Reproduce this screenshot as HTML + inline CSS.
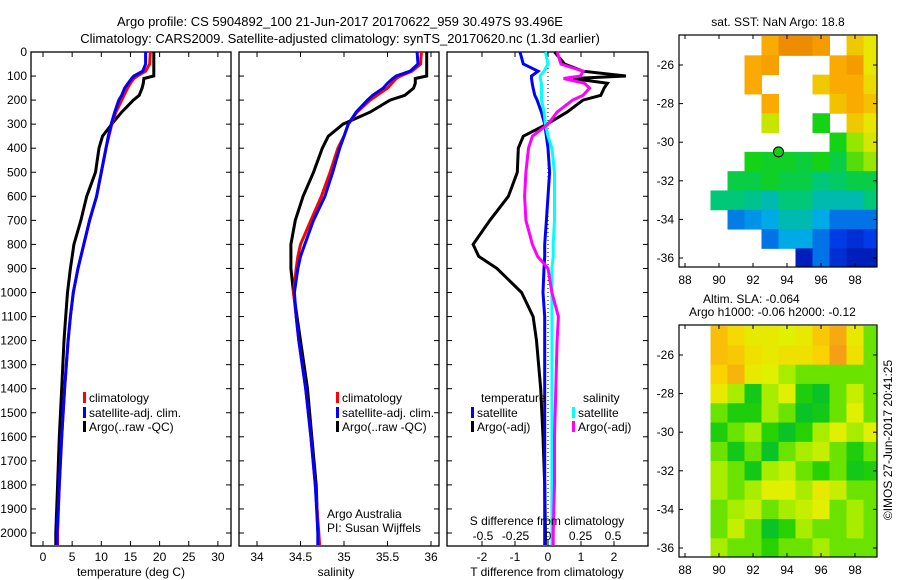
<!DOCTYPE html>
<html><head><meta charset="utf-8">
<style>
html,body{margin:0;padding:0;background:#fff;}
svg{display:block;font-family:"Liberation Sans",sans-serif;}
text{font-size:12px;fill:#000;}
</style></head>
<body>
<svg id="fig" width="900" height="580" viewBox="0 0 900 580" xmlns="http://www.w3.org/2000/svg">
<text x="340" y="26" text-anchor="middle" style="font-size:13px">Argo profile: CS 5904892_100 21-Jun-2017 20170622_959 30.497S 93.496E</text>
<text x="340" y="43" text-anchor="middle" style="font-size:13px">Climatology: CARS2009. Satellite-adjusted climatology: synTS_20170620.nc (1.3d earlier)</text>
<g id="layer"></g>
</svg>
<script>
// ---------- data ----------
const depths = [0,50,80,100,110,130,150,180,200,250,300,350,400,500,600,700,800,850,900,1000,1100,1200,1400,1600,1800,2000,2050];
const tempArgo = [19,19,19,19,17.3,17.2,17,16.5,15.5,13.5,11.8,10.2,9.6,9,7.5,6.5,5.3,5,4.7,4.2,3.9,3.6,3.2,2.8,2.5,2.2,2.2];
const tempClim = [18.4,18.3,17.6,16.2,15.6,15,14.5,13.9,13.5,12.5,11.8,11.3,10.8,10,9.2,8,7,6.5,6,5.2,4.7,4.3,3.7,3.2,2.8,2.5,2.5];
const tempSat  = [17.6,17.6,17.1,15.6,15.2,14.6,14,13.5,13,12.3,11.7,11.2,10.8,10,9.2,8,7,6.5,6,5.2,4.7,4.3,3.7,3.2,2.8,2.4,2.4];
const salArgo = [35.95,35.95,35.95,35.95,35.82,35.82,35.8,35.7,35.53,35.3,34.99,34.82,34.75,34.65,34.53,34.44,34.39,34.39,34.39,34.42,34.46,34.5,34.58,34.63,34.68,34.7,34.7];
const salClim = [35.89,35.88,35.78,35.65,35.6,35.55,35.5,35.38,35.3,35.15,35.05,35,34.93,34.84,34.74,34.62,34.5,34.47,34.45,34.42,34.45,34.48,34.56,34.62,34.67,34.71,34.72];
const salSat  = [35.84,35.85,35.76,35.6,35.56,35.5,35.45,35.33,35.27,35.14,35.05,35,34.95,34.87,34.78,34.65,34.55,34.5,34.47,34.43,34.45,34.48,34.56,34.62,34.67,34.7,34.7];
const dTArgo = [0.2,0.5,1.06,2.36,0.76,1.8,1.7,1.6,1.06,0.58,-0.03,-0.75,-0.9,-0.93,-1.2,-1.76,-2.27,-2.1,-1.55,-0.8,-0.45,-0.35,-0.22,-0.15,-0.1,-0.08,-0.08];
const dTSat  = [-0.85,-0.75,-0.3,-0.5,-0.5,-0.48,-0.45,-0.4,-0.33,-0.2,-0.1,-0.05,0,0.05,0,-0.05,-0.1,-0.1,-0.12,-0.15,-0.1,-0.1,-0.1,-0.1,-0.1,-0.1,-0.1];
const dSSat  = [-0.02,0,-0.03,-0.06,-0.06,-0.05,-0.05,-0.05,-0.05,-0.03,-0.02,0,0.03,0.05,0.05,0.05,0.04,0.04,0.03,0.03,0.03,0.03,0.03,0.03,0.03,0.03,0.03];
const dSArgo = [0.07,0.1,0.27,0.25,0.12,0.28,0.32,0.27,0.19,0.07,0,-0.12,-0.15,-0.17,-0.18,-0.17,-0.12,-0.08,0,0.03,0.08,0.07,0.06,0.05,0.05,0.04,0.04];
const depthTicks = [0,100,200,300,400,500,600,700,800,900,1000,1100,1200,1300,1400,1500,1600,1700,1800,1900,2000];
const tempTicks = [0,5,10,15,20,25,30];
const salTicks = [34,34.5,35,35.5,36];
const dTTicks = [-2,-1,0,1,2];
const dSTicks = [-0.5,-0.25,0,0.25,0.5];
const dSTickLabels = ["-0.5","-0.25","0","0.25","0.5"];
// SST grid: lon 88..99 (cols), lat -25..-36 (rows), null = no data
const sstLons = [88,89,90,91,92,93,94,95,96,97,98,99];
const sstLats = [-25,-26,-27,-28,-29,-30,-31,-32,-33,-34,-35,-36];
const sstGrid = [
[null,null,null,null,null,20,20.6,20.6,20.3,null,19.5,19],
[null,null,null,null,20,20.2,null,null,null,20,20.3,19],
[null,null,null,null,20,null,null,null,19.5,20,20,19.2],
[null,null,null,null,null,20,null,null,null,19.6,20,19.6],
[null,null,null,null,null,18.6,null,null,17,null,19.5,19],
[null,null,null,null,null,null,null,null,null,17,18,18.8],
[null,null,null,null,17,16.8,16.8,16.6,17,16.5,17.5,18],
[null,null,null,16.5,16.5,16.8,16.5,16.5,16,16.2,16.5,16.5],
[null,null,16,16,15.8,15.5,16,16,15.5,15.5,15.5,16],
[null,null,null,14.6,14.8,15,15.5,15.5,15,14.5,14.5,14.5],
[null,null,null,null,null,14.5,15,15,14.5,14,13.8,14],
[null,null,null,null,null,null,null,13.5,14.5,13.8,13.5,13.5]];
const slaLons = [90,91,92,93,94,95,96,97,98,99];
const slaLats = [-25,-26,-27,-28,-29,-30,-31,-32,-33,-34,-35,-36];
const slaGrid = [
[0.1,0.07,0.05,0.05,0.04,0.05,0.09,0.12,0.05,0],
[0.1,0.09,0.06,0.05,0.06,0.06,0.08,0.13,0.06,0],
[0.08,0.11,0.05,0.04,0.02,0,0,0,0,0],
[0.05,0.02,-0.04,0.02,0.04,-0.03,-0.05,0,0.03,0],
[0,-0.03,-0.03,0.02,0,-0.05,-0.04,0,0.04,0],
[-0.03,0,0.02,-0.02,-0.05,-0.02,0.02,0.04,0.02,0.04],
[0,-0.04,0,-0.05,0,0.02,0.03,0,-0.03,0],
[0.02,0,-0.04,0.02,0.03,0,-0.02,0,-0.04,-0.03],
[0.02,0,0.02,0.04,0.04,0.02,0.05,0.03,0,0],
[0,0.02,0.03,0,0.02,0.03,0.04,0,0.02,0],
[0,0.03,0,-0.05,-0.02,0.02,0,0,0.02,0],
[0.02,0,0,-0.02,0,0,0.02,0,0,0]];
const lonTicks = [88,90,92,94,96,98];
const latTicks = [-26,-28,-30,-32,-34,-36];
const argoPos = [93.5,-30.5];

// ---------- helpers ----------
const NS="http://www.w3.org/2000/svg";
const layer=document.getElementById('layer');
function mk(tag,attrs,parent){const e=document.createElementNS(NS,tag);for(const k in attrs)e.setAttribute(k,attrs[k]);(parent||layer).appendChild(e);return e;}
function txt(x,y,s,anchor,parent){const t=mk('text',{x:x,y:y,'text-anchor':anchor||'start'},parent);t.textContent=s;return t;}
const yD = d => 52 + d*0.2405;
const P1={l:31,r:231}, P2={l:239,r:439}, P3={l:447,r:648}, TOP=52, BOT=546;
const xT = v => 43 + v*5.83;
const xS = v => 257 + (v-34)*87;
const xdT = v => 548 + v*33;
const xdS = v => 548 + v*130;

function frame(P,name){
  const r=mk('rect',{x:P.l,y:TOP,width:P.r-P.l,height:BOT-TOP,fill:'none',stroke:'#000','stroke-width':1.3});
  
  
  depthTicks.forEach(d=>{const y=yD(d);
    mk('line',{x1:P.l,x2:P.l+5,y1:y,y2:y,stroke:'#000'});
    mk('line',{x1:P.r,x2:P.r-5,y1:y,y2:y,stroke:'#000'});});
}
function xticks(P,ticks,fx,labels,ly){
  ticks.forEach((v,i)=>{const x=fx(v);
    mk('line',{x1:x,x2:x,y1:BOT,y2:BOT-5,stroke:'#000'});
    mk('line',{x1:x,x2:x,y1:TOP,y2:TOP+5,stroke:'#000'});
    const t=txt(x,ly,labels?labels[i]:String(v),'middle');
    
    });
}
function line(vals,fx,color,name,g){
  const pts=vals.map((v,i)=>fx(v).toFixed(1)+','+yD(depths[i]).toFixed(1)).join(' ');
  const p=mk('polyline',{points:pts,fill:'none',stroke:color,'stroke-width':3,'stroke-linejoin':'miter'},g);
  
  
}
function legend(x,y,color,label,name){
  const g=mk('g',{});
  
  
  mk('rect',{x:x,y:y-10,width:3,height:11,fill:color},g);
  txt(x+6,y,label,'start',g);
}

// ---------- panel 1 temperature ----------
frame(P1,'temperature-panel');
depthTicks.forEach(d=>{const t=txt(27,yD(d)+4,String(d),'end');
  
  });
xticks(P1,tempTicks,xT,null,561);
{const t=txt(131,576,'temperature (deg C)','middle');}
line(tempArgo,xT,'#000','temp-argo-line');
line(tempClim,xT,'#f00','temp-climatology-line');
line(tempSat,xT,'#00f','temp-satellite-line');
legend(83,402,'#f00','climatology','legend-climatology-t');
legend(83,417,'#00f','satellite-adj. clim.','legend-satellite-t');
legend(83,431,'#000','Argo(..raw -QC)','legend-argo-t');

// ---------- panel 2 salinity ----------
frame(P2,'salinity-panel');
xticks(P2,salTicks,xS,null,561);
{const t=txt(336,576,'salinity','middle');}
line(salArgo,xS,'#000','sal-argo-line');
line(salClim,xS,'#f00','sal-climatology-line');
line(salSat,xS,'#00f','sal-satellite-line');
legend(336,402,'#f00','climatology','legend-climatology-s');
legend(336,417,'#00f','satellite-adj. clim.','legend-satellite-s');
legend(336,431,'#000','Argo(..raw -QC)','legend-argo-s');
{const t=txt(327,518,'Argo Australia');
 const t2=txt(327,532,'PI: Susan Wijffels');}

// ---------- panel 3 differences ----------
frame(P3,'difference-panel');
mk('line',{x1:xdT(0),x2:xdT(0),y1:TOP,y2:BOT,stroke:'#000','stroke-dasharray':'1,3'});
xticks(P3,dTTicks,xdT,null,561);
{const t=txt(547,576,'T difference from climatology','middle');}
line(dTArgo,xdT,'#000','tdiff-argo-line');
line(dTSat,xdT,'#00f','tdiff-satellite-line');
line(dSSat,xdS,'#0ff','sdiff-satellite-line');
line(dSArgo,xdS,'#f0f','sdiff-argo-line');
{const t=txt(481,402,'temperature');
 const t2=txt(583,402,'salinity');}
legend(471,417,'#00f','satellite','legend-tdiff-satellite');
legend(471,431,'#000','Argo(-adj)','legend-tdiff-argo');
legend(572,417,'#0ff','satellite','legend-sdiff-satellite');
legend(572,431,'#f0f','Argo(-adj)','legend-sdiff-argo');
{const t=txt(547,525,'S difference from climatology','middle');}
dSTicks.forEach((v,i)=>{const t=txt(xdS(v),540,dSTickLabels[i],'middle');});

// ---------- maps ----------
const xLon = v => 685 + (v-88)*17;
const M1={l:679,r:877,t:35,b:267}, M2={l:679,r:877,t:325,b:557};
const yLat1 = v => 65 + (-26-v)*19.3;
const yLat2 = v => 355 + (-26-v)*19.3;
function jet(v){ // SST colormap 13..21
  const stops=[[13,[0,0,140]],[14,[0,60,230]],[15,[0,170,230]],[16,[0,200,120]],[17,[20,210,20]],[18,[150,230,0]],[19,[230,230,0]],[20,[250,170,0]],[21,[230,120,0]]];
  return interp(stops,v);}
function slaMap(v){
  const stops=[[-0.06,[0,190,50]],[-0.02,[40,210,0]],[0.01,[140,235,0]],[0.04,[225,240,0]],[0.08,[250,210,0]],[0.13,[245,160,20]]];
  return interp(stops,v);}
function interp(stops,v){
  if(v<=stops[0][0])return 'rgb('+stops[0][1]+')';
  for(let i=1;i<stops.length;i++){if(v<=stops[i][0]){const a=stops[i-1],b=stops[i],f=(v-a[0])/(b[0]-a[0]);
    return 'rgb('+a[1].map((c,k)=>Math.round(c+(b[1][k]-c)*f)).join(',')+')';}}
  return 'rgb('+stops[stops.length-1][1]+')';}
function mapFrame(M,yLat,name,clipId,grid,lons,lats,cmap){
  const defs=mk('defs',{});const cp=mk('clipPath',{id:clipId},defs);mk('rect',{x:M.l,y:M.t,width:M.r-M.l,height:M.b-M.t},cp);
  const g=mk('g',{'clip-path':'url(#'+clipId+')'});
  
  
  grid.forEach((row,ri)=>row.forEach((v,ci)=>{ if(v===null)return;
    const x0=xLon(lons[ci]-0.5), x1=xLon(lons[ci]+0.5), y0=yLat(lats[ri]+0.5), y1=yLat(lats[ri]-0.5);
    const r=mk('rect',{x:x0,y:y0,width:x1-x0+0.5,height:y1-y0+0.5,fill:cmap(v)},g);
    
    }));
  const fr=mk('rect',{x:M.l,y:M.t,width:M.r-M.l,height:M.b-M.t,fill:'none',stroke:'#000','stroke-width':1.2});
  
  
  lonTicks.forEach(v=>{const x=xLon(v);mk('line',{x1:x,x2:x,y1:M.b,y2:M.b-4,stroke:'#000'});mk('line',{x1:x,x2:x,y1:M.t,y2:M.t+4,stroke:'#000'});
    const t=txt(x,M.b+17,String(v),'middle');});
  latTicks.forEach(v=>{const y=yLat(v);mk('line',{x1:M.l,x2:M.l+4,y1:y,y2:y,stroke:'#000'});mk('line',{x1:M.r,x2:M.r-4,y1:y,y2:y,stroke:'#000'});
    const t=txt(M.l-5,y+4,String(v),'end');});
}
mapFrame(M1,yLat1,'sst-map','c1',sstGrid,sstLons,sstLats,jet);
mapFrame(M2,yLat2,'sla-map','c2',slaGrid,slaLons,slaLats,slaMap);
{const c=mk('circle',{cx:xLon(argoPos[0]),cy:yLat1(argoPos[1]),r:5,fill:'#10d010',stroke:'#000','stroke-width':1});
 }
{const t=txt(778,26,'sat. SST: NaN Argo: 18.8','middle');
 const t2=txt(703,303,'Altim. SLA: -0.064');
 const t3=txt(689,316,'Argo h1000: -0.06 h2000: -0.12');
 const t4=txt(0,0,'©IMOS 27-Jun-2017 20:41:25','middle');t4.setAttribute('transform','translate(892,440) rotate(-90)');
 }
</script>
</body></html>
